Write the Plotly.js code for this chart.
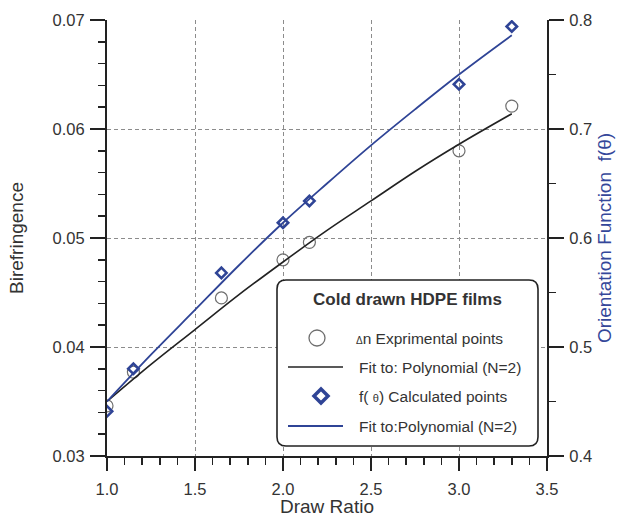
<!DOCTYPE html>
<html>
<head>
<meta charset="utf-8">
<script src="https://cdn.plot.ly/plotly-3.0.1.min.js"></script>
<style>html,body{margin:0;padding:0;background:#fff;}#chart{width:627px;height:517px;}</style>
</head>
<body>
<div id="chart"></div>
<script>
// Data
var drawRatio = [1.0, 1.15, 1.65, 2.0, 2.15, 3.0, 3.3];
var birefringence = [0.0346, 0.0377, 0.0445, 0.0480, 0.0496, 0.0580, 0.0621];
var orientation = [0.441, 0.480, 0.568, 0.614, 0.634, 0.741, 0.794];
var fitX = [1.0, 1.25, 1.5, 1.75, 2.0, 2.25, 2.5, 2.75, 3.0, 3.3];
var birefFit = [0.0350, 0.0384, 0.0416, 0.0448, 0.0478, 0.0507, 0.0534, 0.0561, 0.0586, 0.0614];
var orientFit = [0.450, 0.493, 0.534, 0.575, 0.614, 0.650, 0.685, 0.718, 0.750, 0.786];
var xTicks = [1.0, 1.5, 2.0, 2.5, 3.0, 3.5];
var xTickText = ['1.0', '1.5', '2.0', '2.5', '3.0', '3.5'];
var yTicks = [0.03, 0.04, 0.05, 0.06, 0.07];
var y2Ticks = [0.4, 0.5, 0.6, 0.7, 0.8];
var legendTitle = '<b>Cold drawn HDPE films</b>';
var legendNames = [
  '<span style="font-size:10px">Δ</span>n Exprimental points',
  'Fit to: Polynomial (N=2)',
  'f( <span style="font-size:11px">θ</span>) Calculated points',
  'Fit to:Polynomial (N=2)'
];

var BLUE = '#2f4496';
var GRAY = '#6e6e6e';
var FONT = 'Liberation Sans, Arial, Helvetica, sans-serif';

var traces = [
  {x: drawRatio, y: birefringence, type: 'scatter', mode: 'markers', name: legendNames[0], yaxis: 'y',
   marker: {symbol: 'circle-open', size: 12, color: GRAY, line: {width: 1.2, color: GRAY}}},
  {x: fitX, y: birefFit, type: 'scatter', mode: 'lines', name: legendNames[1], yaxis: 'y',
   line: {color: '#222', width: 1.6, shape: 'spline', smoothing: 1}},
  {x: drawRatio, y: orientation, type: 'scatter', mode: 'markers', name: legendNames[2], yaxis: 'y2',
   marker: {symbol: 'diamond-open', size: 8, color: BLUE, line: {width: 2.6, color: BLUE}}},
  {x: fitX, y: orientFit, type: 'scatter', mode: 'lines', name: legendNames[3], yaxis: 'y2',
   line: {color: BLUE, width: 1.8, shape: 'spline', smoothing: 1}}
];

// ---- hand-drawn legend (paper coordinates), plot area 107..547 x 20..456 px ----
var PL = 107, PW = 440, PB = 456, PH = 436;
function px(x) { return (x - PL) / PW; }
function py(y) { return (PB - y) / PH; }

var bx0 = px(277), bx1 = px(538), by0 = py(446), by1 = py(280);
var rx = 9 / PW, ry = 9 / PH;
var framePath = 'M ' + (bx0 + rx) + ',' + by1 + ' L ' + (bx1 - rx) + ',' + by1 +
  ' Q ' + bx1 + ',' + by1 + ' ' + bx1 + ',' + (by1 - ry) +
  ' L ' + bx1 + ',' + (by0 + ry) + ' Q ' + bx1 + ',' + by0 + ' ' + (bx1 - rx) + ',' + by0 +
  ' L ' + (bx0 + rx) + ',' + by0 + ' Q ' + bx0 + ',' + by0 + ' ' + bx0 + ',' + (by0 + ry) +
  ' L ' + bx0 + ',' + (by1 - ry) + ' Q ' + bx0 + ',' + by1 + ' ' + (bx0 + rx) + ',' + by1 + ' Z';

var rowY = [338, 367, 396, 426];
var symX = 317, lineX0 = 288, lineX1 = 343, textX = 357;
var dHalf = 7;
var dc = {x: 321, y: rowY[2]};
var diamondPath = 'M ' + px(dc.x) + ',' + py(dc.y - dHalf) + ' L ' + px(dc.x + dHalf) + ',' + py(dc.y) +
  ' L ' + px(dc.x) + ',' + py(dc.y + dHalf) + ' L ' + px(dc.x - dHalf) + ',' + py(dc.y) + ' Z';

var shapes = [
  {type: 'path', xref: 'paper', yref: 'paper', path: framePath,
   line: {color: '#222', width: 1.6}, fillcolor: '#ffffff', layer: 'above'},
  {type: 'circle', xref: 'paper', yref: 'paper',
   x0: px(symX - 8), x1: px(symX + 8), y0: py(rowY[0] + 8), y1: py(rowY[0] - 8),
   line: {color: GRAY, width: 1.3}, fillcolor: '#ffffff', layer: 'above'},
  {type: 'line', xref: 'paper', yref: 'paper', x0: px(lineX0), x1: px(lineX1), y0: py(rowY[1]), y1: py(rowY[1]),
   line: {color: '#222', width: 1.6}, layer: 'above'},
  {type: 'path', xref: 'paper', yref: 'paper', path: diamondPath,
   line: {color: BLUE, width: 3.5}, fillcolor: '#ffffff', layer: 'above'},
  {type: 'line', xref: 'paper', yref: 'paper', x0: px(lineX0), x1: px(lineX1), y0: py(rowY[3]), y1: py(rowY[3]),
   line: {color: BLUE, width: 1.8}, layer: 'above'}
];

var annotations = [
  {xref: 'paper', yref: 'paper', x: px(407.5), y: py(299), text: legendTitle, showarrow: false,
   xanchor: 'center', yanchor: 'middle', font: {family: FONT, size: 17, color: '#333'}}
];
for (var i = 0; i < legendNames.length; i++) {
  annotations.push({xref: 'paper', yref: 'paper', x: px(i === 0 ? textX - 3 : textX), y: py(rowY[i]),
    text: legendNames[i], showarrow: false, xanchor: 'left', yanchor: 'middle',
    font: {family: FONT, size: 15.5, color: '#333'}});
}

var layout = {
  width: 627, height: 517,
  margin: {l: PL, r: 627 - PL - PW, t: 20, b: 517 - PB},
  paper_bgcolor: '#fff', plot_bgcolor: '#fff',
  font: {family: FONT, color: '#333', size: 16},
  showlegend: false,
  xaxis: {
    range: [1.0, 3.5], tickvals: xTicks, ticktext: xTickText,
    showline: true, linecolor: '#222', linewidth: 2, mirror: false,
    ticks: 'outside', ticklen: 13, tickwidth: 2, tickcolor: '#222', ticklabelstandoff: 4,
    minor: {dtick: 0.1, ticks: 'outside', ticklen: 7, tickwidth: 1.5, tickcolor: '#222', showgrid: false},
    showgrid: true, gridcolor: '#8c8c8c', griddash: '4px,3px', gridwidth: 1,
    zeroline: false, tickfont: {size: 16.5, color: '#333'},
    title: {text: 'Draw Ratio', font: {size: 19, color: '#333'}, standoff: 5}
  },
  yaxis: {
    range: [0.03, 0.07], tickvals: yTicks, tickformat: '.2f',
    showline: true, linecolor: '#222', linewidth: 2,
    ticks: 'outside', ticklen: 15, tickwidth: 2, tickcolor: '#222', ticklabelstandoff: 2,
    minor: {dtick: 0.002, ticks: 'outside', ticklen: 7, tickwidth: 1.5, tickcolor: '#222', showgrid: false},
    showgrid: true, gridcolor: '#8c8c8c', griddash: '4px,3px', gridwidth: 1,
    zeroline: false, tickfont: {size: 16.5, color: '#333'},
    title: {text: 'Birefringence', font: {size: 19, color: '#333'}, standoff: 24}
  },
  yaxis2: {
    overlaying: 'y', side: 'right', range: [0.4, 0.8], tickvals: y2Ticks, tickformat: '.1f',
    showline: true, linecolor: '#222', linewidth: 2,
    ticks: 'outside', ticklen: 15, tickwidth: 2, tickcolor: '#222', ticklabelstandoff: 2,
    minor: {dtick: 0.05, ticks: 'outside', ticklen: 7, tickwidth: 1.5, tickcolor: '#222', showgrid: false},
    showgrid: false, zeroline: false, tickfont: {size: 16.5, color: '#333'},
    title: {text: 'Orientation Function  f(θ)', font: {size: 19, color: '#34479a'}, standoff: 6}
  },
  shapes: shapes,
  annotations: annotations
};

Plotly.newPlot('chart', traces, layout, {displayModeBar: false, staticPlot: true});
</script>
</body>
</html>
